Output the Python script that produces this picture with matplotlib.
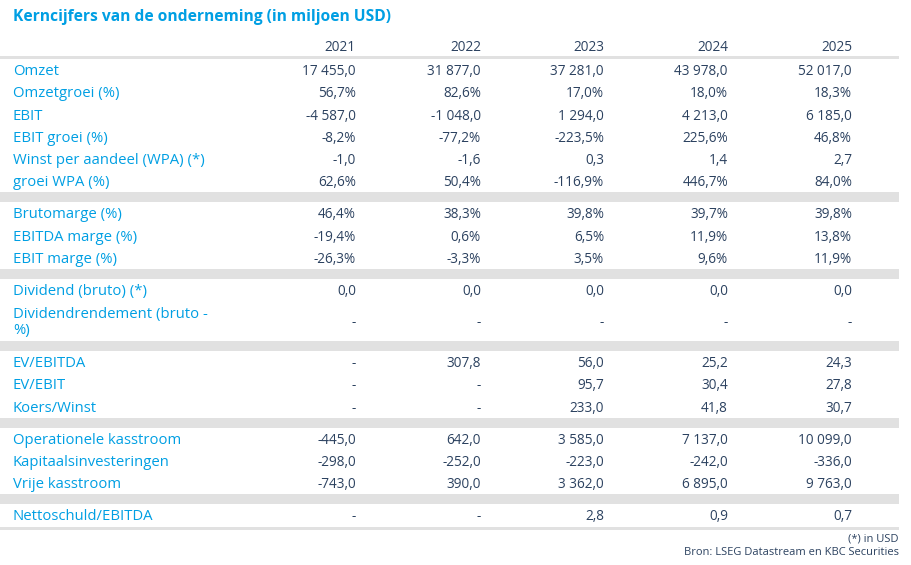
import matplotlib
matplotlib.use("Agg")
import matplotlib.pyplot as plt

title = "Kerncijfers van de onderneming (in miljoen USD)"
years = ["2021", "2022", "2023", "2024", "2025"]

# groups of rows (label, values per year)
group1_labels = ["Omzet", "Omzetgroei (%)", "EBIT", "EBIT groei (%)",
                 "Winst per aandeel (WPA) (*)", "groei WPA (%)"]
group1_values = [
    ["17 455,0", "31 877,0", "37 281,0", "43 978,0", "52 017,0"],
    ["56,7%", "82,6%", "17,0%", "18,0%", "18,3%"],
    ["-4 587,0", "-1 048,0", "1 294,0", "4 213,0", "6 185,0"],
    ["-8,2%", "-77,2%", "-223,5%", "225,6%", "46,8%"],
    ["-1,0", "-1,6", "0,3", "1,4", "2,7"],
    ["62,6%", "50,4%", "-116,9%", "446,7%", "84,0%"],
]
group2_labels = ["Brutomarge (%)", "EBITDA marge (%)", "EBIT marge (%)"]
group2_values = [
    ["46,4%", "38,3%", "39,8%", "39,7%", "39,8%"],
    ["-19,4%", "0,6%", "6,5%", "11,9%", "13,8%"],
    ["-26,3%", "-3,3%", "3,5%", "9,6%", "11,9%"],
]
group3_labels = ["Dividend (bruto) (*)", "Dividendrendement (bruto -\n%)"]
group3_values = [
    ["0,0", "0,0", "0,0", "0,0", "0,0"],
    ["-", "-", "-", "-", "-"],
]
group4_labels = ["EV/EBITDA", "EV/EBIT", "Koers/Winst"]
group4_values = [
    ["-", "307,8", "56,0", "25,2", "24,3"],
    ["-", "-", "95,7", "30,4", "27,8"],
    ["-", "-", "233,0", "41,8", "30,7"],
]
group5_labels = ["Operationele kasstroom", "Kapitaalsinvesteringen", "Vrije kasstroom"]
group5_values = [
    ["-445,0", "642,0", "3 585,0", "7 137,0", "10 099,0"],
    ["-298,0", "-252,0", "-223,0", "-242,0", "-336,0"],
    ["-743,0", "390,0", "3 362,0", "6 895,0", "9 763,0"],
]
group6_labels = ["Nettoschuld/EBITDA"]
group6_values = [["-", "-", "2,8", "0,9", "0,7"]]
footnotes = ["(*) in USD", "Bron: LSEG Datastream en KBC Securities"]

groups = [
    (group1_labels, group1_values),
    (group2_labels, group2_values),
    (group3_labels, group3_values),
    (group4_labels, group4_values),
    (group5_labels, group5_values),
    (group6_labels, group6_values),
]

BLUE = "#009fe3"
NAVY = "#2c4260"
GREY = "#e1e1e1"
FONT = "Open Sans"
FS_LAB = 10.7
FS_VAL = 9.8
DY = 1.6  # text baseline correction

W, H = 912, 565
fig = plt.figure(figsize=(W / 100, H / 100), dpi=100)
ax = fig.add_axes([0, 0, 1, 1])
ax.set_xlim(0, W)
ax.set_ylim(H, 0)
ax.axis("off")

left, right = 0, 899
label_x = 13
col_x = [356, 481, 604, 728, 852]
row_h = 22.2
dbl_h = 40.0
band_h = 10.0

ax.text(label_x, 15 + DY, title, color=BLUE, fontsize=11.25, fontweight="bold",
        family=FONT, ha="left", va="center")
for x, yr in zip(col_x, years):
    ax.text(x, 46 + DY, yr, color=NAVY, fontsize=FS_VAL, family=FONT, ha="right", va="center")
ax.fill_between([left, right], 56, 59, color=GREY, lw=0)

y = 59
for gi, (labels, values) in enumerate(groups):
    for lab, vals in zip(labels, values):
        h = dbl_h if "\n" in lab else row_h
        yc = y + h / 2 + DY
        ax.text(label_x, yc, lab, color=BLUE, fontsize=FS_LAB, family=FONT,
                ha="left", va="center", linespacing=1.1)
        for x, v in zip(col_x, vals):
            ax.text(x, yc, v, color=NAVY, fontsize=FS_VAL, family=FONT,
                    ha="right", va="center")
        y += h
    if gi < len(groups) - 1:
        ax.fill_between([left, right], y, y + band_h, color=GREY, lw=0)
        y += band_h
    else:
        ax.fill_between([left, right], y + 0.5, y + 3.5, color=GREY, lw=0)

ax.text(right, 537 + DY, footnotes[0], color=NAVY, fontsize=8.0, family=FONT,
        ha="right", va="center")
ax.text(right, 551 + DY, footnotes[1], color=NAVY, fontsize=8.0, family=FONT,
        ha="right", va="center")

fig.savefig("out.png", dpi=100)
